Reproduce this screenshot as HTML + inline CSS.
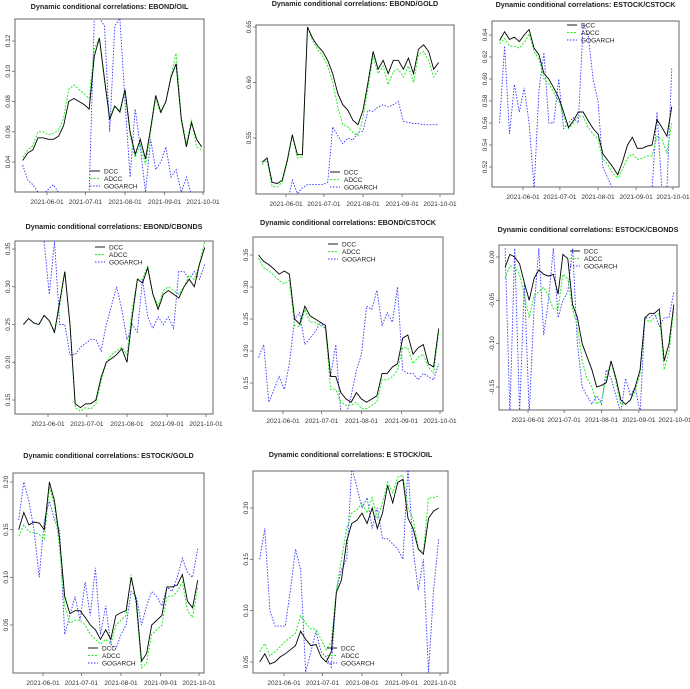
<!DOCTYPE html>
<html><head><meta charset="utf-8"><style>
body{margin:0;background:#fff}
svg{display:block;font-family:"Liberation Sans",sans-serif}
</style></head><body>
<svg id="c" width="690" height="689" viewBox="0 0 690 689"></svg>
<script>
// Shared date grid (days since 2021-05-01)
const days=[12,16,20,24,28,32,36,40,44,48,52,56,60,64,68,72,76,80,84,88,92,96,100,104,108,112,116,120,124,128,132,136,140,144,148,152];
const xTickDays=[31,61,92,123,153];
const xTickLabels=["2021-06-01","2021-07-01","2021-08-01","2021-09-01","2021-10-01"];
const seriesNames=["DCC","ADCC","GOGARCH"];

const titles=["Dynamic conditional correlations: EBOND/OIL","Dynamic conditional correlations: EBOND/GOLD","Dynamic conditional correlations:  ESTOCK/CSTOCK","Dynamic conditional correlations: EBOND/CBONDS","Dynamic conditional correlations: EBOND/CSTOCK","Dynamic conditional correlations: ESTOCK/CBONDS","Dynamic conditional correlations: ESTOCK/GOLD","Dynamic conditional correlations: E STOCK/OIL"];

const p1dcc=[.041,.046,.048,.056,.056,.055,.055,.057,.064,.080,.082,.080,.078,.075,.110,.122,.095,.068,.077,.073,.088,.060,.045,.055,.042,.062,.084,.073,.080,.096,.105,.068,.050,.066,.055,.050];
const p1adcc=[.043,.048,.051,.060,.060,.058,.059,.061,.069,.088,.091,.088,.085,.082,.115,.122,.093,.070,.077,.074,.087,.058,.043,.052,.038,.060,.082,.072,.080,.097,.112,.070,.052,.068,.050,.048];
const p1gog=[.038,.028,.025,.020,.018,.022,.025,.020,.018,.016,.016,.016,.016,.020,.135,.135,.130,.060,.130,.135,.080,.030,.075,.050,.020,.055,.035,.040,.050,.030,.035,.020,.030,.018,.016,.016];

const p2dcc=[.528,.532,.510,.509,.512,.530,.553,.535,.535,.650,.640,.633,.628,.620,.608,.590,.580,.575,.566,.562,.575,.600,.628,.612,.620,.608,.620,.620,.612,.622,.608,.630,.634,.628,.612,.618];
const p2adcc=[.526,.530,.506,.506,.510,.528,.552,.532,.533,.650,.638,.630,.624,.615,.600,.578,.562,.560,.555,.552,.568,.595,.624,.608,.615,.598,.610,.612,.605,.615,.600,.625,.628,.620,.605,.612];
const p2gog=[.48,.48,.48,.48,.49,.49,.512,.50,.505,.508,.508,.508,.508,.510,.560,.552,.545,.550,.548,.555,.556,.575,.574,.578,.580,.578,.580,.583,.565,.564,.563,.563,.562,.562,.562,.562];

const p3dcc=[.635,.643,.636,.638,.634,.640,.645,.628,.622,.605,.600,.592,.583,.570,.556,.562,.570,.570,.562,.555,.550,.532,.526,.520,.513,.525,.540,.547,.537,.537,.539,.540,.563,.556,.548,.575];
const p3adcc=[.632,.637,.630,.630,.628,.633,.641,.625,.618,.600,.596,.588,.580,.566,.555,.560,.566,.566,.556,.550,.545,.527,.522,.514,.510,.518,.528,.532,.527,.528,.530,.530,.548,.545,.533,.560];
const p3gog=[.560,.630,.550,.595,.570,.592,.560,.500,.590,.624,.560,.560,.600,.555,.560,.565,.560,.650,.640,.600,.580,.520,.510,.500,.500,.500,.500,.500,.500,.500,.500,.500,.570,.500,.500,.610];

const p4dcc=[.25,.258,.252,.25,.262,.255,.24,.28,.32,.25,.145,.14,.145,.145,.15,.18,.20,.205,.21,.218,.20,.26,.31,.305,.325,.29,.27,.29,.295,.29,.285,.30,.31,.30,.33,.352];
const p4adcc=[.25,.258,.252,.25,.262,.255,.238,.275,.32,.25,.14,.135,.14,.138,.145,.175,.20,.21,.215,.22,.21,.27,.31,.31,.328,.29,.275,.295,.30,.295,.29,.30,.315,.31,.33,.36];
const p4gog=[null,null,null,null,.36,.29,.36,.25,.25,.21,.21,.22,.225,.23,.23,.215,.25,.275,.30,.27,.23,.25,.24,.31,.26,.245,.26,.25,.26,.245,.32,.32,.31,.32,.31,.33];

const p5dcc=[.35,.34,.335,.328,.32,.325,.32,.25,.242,.27,.255,.25,.245,.24,.16,.16,.135,.125,.12,.135,.125,.12,.125,.13,.165,.165,.175,.18,.22,.225,.195,.205,.21,.18,.175,.235];
const p5adcc=[.345,.33,.325,.318,.31,.305,.31,.24,.238,.265,.245,.245,.24,.235,.14,.14,.12,.115,.115,.12,.11,.11,.115,.12,.155,.155,.16,.17,.205,.205,.18,.19,.195,.175,.165,.23];
const p5gog=[.19,.21,.12,.14,.16,.14,.18,.25,.26,.21,.22,.23,.245,.235,.16,.21,.10,.10,.13,.17,.195,.27,.265,.295,.24,.26,.245,.30,.17,.165,.165,.155,.165,.16,.155,.18];

const p6dcc=[-.012,.003,0,-.008,-.03,-.05,-.025,-.015,-.02,-.022,-.02,-.043,.003,-.002,-.055,-.07,-.10,-.115,-.13,-.15,-.148,-.145,-.12,-.14,-.165,-.17,-.165,-.15,-.13,-.07,-.065,-.065,-.06,-.12,-.10,-.055];
const p6adcc=[-.025,-.01,-.012,-.02,-.045,-.07,-.045,-.04,-.035,-.045,-.06,-.06,-.02,-.025,-.06,-.08,-.12,-.14,-.15,-.17,-.165,-.14,-.12,-.145,-.17,-.17,-.165,-.155,-.135,-.07,-.075,-.07,-.065,-.13,-.11,-.06];
const p6gog=[.01,-.18,.01,-.18,-.03,-.18,-.06,.01,-.09,-.05,.01,-.07,-.05,-.04,.01,-.10,-.15,-.16,-.17,-.16,-.17,-.13,-.14,-.16,-.18,-.14,-.16,-.15,-.18,-.07,-.07,-.065,-.08,-.07,-.07,-.04];

const p7dcc=[.15,.168,.155,.158,.157,.15,.20,.18,.14,.08,.062,.065,.065,.058,.05,.045,.035,.045,.035,.06,.063,.065,.10,.075,.012,.02,.05,.055,.06,.09,.09,.092,.103,.075,.068,.097];
const p7adcc=[.143,.155,.148,.147,.145,.14,.195,.175,.13,.07,.052,.055,.055,.05,.04,.035,.03,.035,.03,.05,.055,.06,.103,.07,.005,.01,.04,.045,.05,.08,.08,.085,.095,.065,.058,.09];
const p7gog=[.16,.20,.18,.15,.10,.16,.18,.16,.15,.04,.06,.08,.055,.095,.06,.11,.04,.07,.03,.025,.04,.05,.085,.08,.05,.07,.085,.08,.07,.09,.085,.10,.12,.105,.10,.13];

const p8dcc=[.05,.058,.048,.05,.055,.058,.062,.066,.08,.072,.066,.067,.055,.05,.06,.118,.13,.168,.185,.188,.195,.185,.20,.18,.195,.222,.205,.225,.228,.19,.18,.16,.155,.19,.197,.20];
const p8adcc=[.06,.068,.056,.06,.065,.07,.074,.078,.095,.088,.082,.082,.072,.062,.07,.12,.15,.18,.195,.198,.205,.195,.21,.19,.205,.225,.215,.23,.232,.20,.19,.16,.157,.21,.21,.212];
const p8gog=[.15,.18,.10,.085,.085,.085,.12,.16,.14,.04,.06,.08,.06,.055,.045,.12,.14,.15,.24,.22,.20,.21,.18,.20,.17,.17,.165,.16,.15,.24,.16,.12,.15,.04,.12,.17];

const p1ticks=[.04,.06,.08,.10,.12], p2ticks=[.55,.60,.65], p3ticks=[.52,.54,.56,.58,.60,.62,.64],
      p4ticks=[.15,.20,.25,.30,.35], p5ticks=[.15,.20,.25,.30,.35], p6ticks=[0,-.05,-.10,-.15],
      p7ticks=[.05,.10,.15,.20], p8ticks=[.05,.10,.15,.20];

// layout (not data)
const panels=[
 {box:[15,19,204,192],yr:[.04,162,.12,41],xr:[47,203],ty:9,leg:[90,171],data:[p1dcc,p1adcc,p1gog],ticks:p1ticks,dec:2},
 {box:[256,25,454,194],yr:[.55,138,.65,27],xr:[286,440],ty:6,leg:[330,172],data:[p2dcc,p2adcc,p2gog],ticks:p2ticks,dec:2},
 {box:[492,21,679,187],yr:[.52,167,.64,35],xr:[523,673],ty:7,leg:[567,25],data:[p3dcc,p3adcc,p3gog],ticks:p3ticks,dec:2},
 {box:[15,241,213,414],yr:[.15,400,.35,249],xr:[48,206],ty:229,leg:[95,247],data:[p4dcc,p4adcc,p4gog],ticks:p4ticks,dec:2},
 {box:[253,237,443,411],yr:[.15,383,.35,255],xr:[283,440],ty:225,leg:[328,244],data:[p5dcc,p5adcc,p5gog],ticks:p5ticks,dec:2},
 {box:[499,245,677,410],yr:[-.15,387,0,257],xr:[528,675],ty:232,leg:[570,251],data:[p6dcc,p6adcc,p6gog],ticks:p6ticks,dec:2},
 {box:[13,473,204,673],yr:[.05,625,.20,482],xr:[43,199],ty:458,leg:[88,648],data:[p7dcc,p7adcc,p7gog],ticks:p7ticks,dec:2},
 {box:[253,471,448,673],yr:[.05,662,.20,508],xr:[284,440],ty:457,leg:[327,648],data:[p8dcc,p8adcc,p8gog],ticks:p8ticks,dec:2}
];
const styles=[{c:"#000",w:0.9,d:""},{c:"#22ee22",w:1,d:"2,1.5"},{c:"#3333ff",w:0.9,d:"1.5,1.5"}];
const NS="http://www.w3.org/2000/svg";
const svg=document.getElementById('c');
function mk(tag,attrs,parent){const e=document.createElementNS(NS,tag);for(const k in attrs)e.setAttribute(k,attrs[k]);(parent||svg).appendChild(e);return e;}
const defs=mk('defs',{});
panels.forEach((p,pi)=>{
  const g=mk('g',{});
  
  
  const [x0,y0,x1,y1]=p.box;
  const ys=v=>p.yr[1]+(v-p.yr[0])*(p.yr[3]-p.yr[1])/(p.yr[2]-p.yr[0]);
  const xs=d=>p.xr[0]+(d-31)*(p.xr[1]-p.xr[0])/(153-31);
  const cp=mk('clipPath',{id:'cp'+pi},defs);
  mk('rect',{x:x0,y:y0,width:x1-x0,height:y1-y0},cp);
  const t=mk('text',{x:(x0+x1)/2,y:p.ty,'text-anchor':'middle','font-size':7.2,'font-weight':'bold',fill:'#222'},g);
  t.textContent=titles[pi];
  
  
  const frame=mk('rect',{x:x0,y:y0,width:x1-x0,height:y1-y0,fill:'none',stroke:'#666','stroke-width':1},g);
  
  
  p.ticks.forEach(v=>{
    const y=ys(v);
    mk('line',{x1:x0-3,x2:x0,y1:y,y2:y,stroke:'#666','stroke-width':0.8},g);
    const tl=mk('text',{x:x0-5,y:y,'font-size':6.5,fill:'#333','text-anchor':'middle',transform:`rotate(-90 ${x0-5} ${y})`},g);
    tl.textContent=v.toFixed(p.dec);
    
    
  });
  xTickDays.forEach((d,i)=>{
    const x=xs(d);
    mk('line',{x1:x,x2:x,y1:y1,y2:y1+3,stroke:'#666','stroke-width':0.8},g);
    const tl=mk('text',{x:x,y:y1+12,'font-size':6.5,fill:'#333','text-anchor':'middle'},g);
    tl.textContent=xTickLabels[i];
    
    
  });
  const sg=mk('g',{'clip-path':`url(#cp${pi})`},g);
  [2,1,0].forEach(si=>{
    const vals=p.data[si];let dstr="",pen=false;
    vals.forEach((v,i)=>{
      if(v===null){pen=false;return;}
      dstr+=(pen?"L":"M")+xs(days[i]).toFixed(1)+","+ys(v).toFixed(1);pen=true;
    });
    const st=styles[si];
    const path=mk('path',{d:dstr,fill:'none',stroke:st.c,'stroke-width':st.w,'stroke-dasharray':st.d},sg);
    
    
  });
  const lg=mk('g',{},g);
  
  
  seriesNames.forEach((n,si)=>{
    const ly=p.leg[1]+si*7.5, st=styles[si];
    mk('line',{x1:p.leg[0],x2:p.leg[0]+10,y1:ly,y2:ly,stroke:st.c,'stroke-width':st.w,'stroke-dasharray':st.d},lg);
    const lt=mk('text',{x:p.leg[0]+14,y:ly+2.3,'font-size':6.5,fill:'#222'},lg);
    lt.textContent=n;
    
    
  });
});
</script>
</body></html>
